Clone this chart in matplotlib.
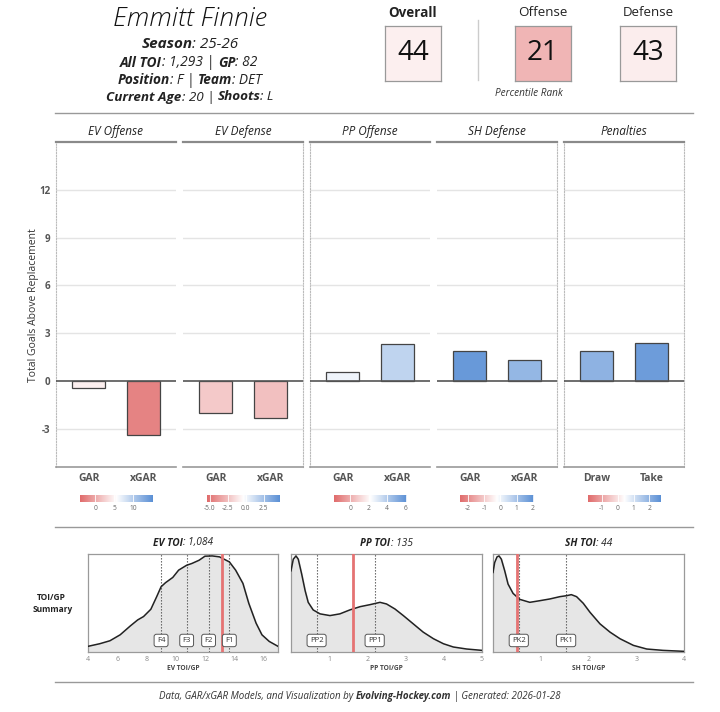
import numpy as np
import matplotlib
matplotlib.use("Agg")
import matplotlib.pyplot as plt
from matplotlib.colors import LinearSegmentedColormap, Normalize, TwoSlopeNorm
from matplotlib.lines import Line2D

plt.rcParams['font.family'] = ['Open Sans', 'DejaVu Sans']

# ---- data ----
player = "Emmitt Finnie"
season = "25-26"
all_toi = "1,293"
games = "82"
position = "F"
team = "DET"
age = "20"
shoots = "L"

pct_labels = ["Overall", "Offense", "Defense"]
pct_values = [44, 21, 43]

panel_names = ["EV Offense", "EV Defense", "PP Offense", "SH Defense", "Penalties"]
bar_labels = [["GAR", "xGAR"], ["GAR", "xGAR"], ["GAR", "xGAR"], ["GAR", "xGAR"], ["Draw", "Take"]]
bar_values = [[-0.42, -3.4], [-2.0, -2.3], [0.58, 2.35], [1.85, 1.32], [1.85, 2.37]]
scale_limits = [(-4.1, 15.0), (-5.45, 4.7), (-1.8, 6.1), (-2.47, 2.04), (-1.9, 2.7)]
scale_ticks = [[0, 5, 10], [-5, -2.5, 0, 2.5], [0, 2, 4, 6], [-2, -1, 0, 1, 2], [-1, 0, 1, 2]]
scale_tick_labels = [["0", "5", "10"], ["-5.0", "-2.5", "0.0", "2.5"], ["0", "2", "4", "6"],
                     ["-2", "-1", "0", "1", "2"], ["-1", "0", "1", "2"]]

ev_x = [4.0, 4.8, 5.5, 6.2, 6.9, 7.4, 7.8, 8.3, 8.7, 9.0, 9.3, 9.8, 10.2, 10.75, 11.1, 11.6,
        12.0, 12.5, 13.0, 13.67, 14.1, 14.6, 15.0, 15.5, 15.9, 16.4, 17.0]
ev_y = [0.059, 0.086, 0.117, 0.179, 0.272, 0.334, 0.369, 0.445, 0.576, 0.679, 0.721, 0.776, 0.852,
        0.903, 0.921, 0.955, 0.997, 1.0, 0.990, 0.938, 0.852, 0.714, 0.507, 0.300, 0.179, 0.110, 0.059]
pp_x = [0.0, 0.06, 0.13, 0.19, 0.28, 0.37, 0.45, 0.58, 0.76, 1.02, 1.28, 1.54, 1.81, 2.07, 2.33,
        2.50, 2.72, 2.94, 3.20, 3.46, 3.73, 3.99, 4.25, 4.60, 5.0]
pp_y = [0.845, 0.966, 1.0, 0.966, 0.810, 0.638, 0.517, 0.438, 0.397, 0.379, 0.397, 0.438, 0.472,
        0.493, 0.517, 0.500, 0.448, 0.379, 0.293, 0.207, 0.138, 0.086, 0.052, 0.031, 0.017]
sh_x = [0.0, 0.035, 0.084, 0.126, 0.175, 0.245, 0.315, 0.42, 0.56, 0.77, 0.98, 1.19, 1.40, 1.54,
        1.64, 1.75, 1.89, 2.03, 2.24, 2.45, 2.66, 2.94, 3.22, 3.56, 4.0]
sh_y = [0.828, 0.931, 0.990, 1.0, 0.966, 0.845, 0.707, 0.610, 0.548, 0.517, 0.534, 0.552, 0.576,
        0.586, 0.597, 0.576, 0.507, 0.414, 0.293, 0.207, 0.138, 0.069, 0.031, 0.017, 0.007]

toi_titles = ["EV TOI", "PP TOI", "SH TOI"]
toi_totals = ["1,084", "135", "44"]
toi_xlabels = ["EV TOI/GP", "PP TOI/GP", "SH TOI/GP"]
toi_xlims = [(4, 17), (0, 5), (0, 4)]
toi_xticks = [[4, 6, 8, 10, 12, 14, 16], [1, 2, 3, 4, 5], [1, 2, 3, 4]]
role_names = [["F4", "F3", "F2", "F1"], ["PP2", "PP1"], ["PK2", "PK1"]]
role_values = [[9.0, 10.75, 12.25, 13.67], [0.67, 2.19], [0.54, 1.53]]
player_toi = [13.16, 1.61, 0.51]

# ---- figure ----
W, H = 720, 712
fig = plt.figure(figsize=(7.2, 7.12), dpi=100)
renderer = fig.canvas.get_renderer()

cmap = LinearSegmentedColormap.from_list("rwb", ["#e06b6b", "#ffffff", "#5a8fd5"])


def fx(x):
    return x / W


def fy(y):
    return 1 - y / H


def box(x0, y0, x1, y1):
    return [x0 / W, 1 - y1 / H, (x1 - x0) / W, (y1 - y0) / H]


def hline(y, x0=55, x1=693, color="#999999"):
    fig.add_artist(Line2D([fx(x0), fx(x1)], [fy(y), fy(y)], color=color, lw=1))


def text_width(s, size, weight, style="italic"):
    t1 = fig.text(0, 0, "|" + s + "|", fontsize=size, style=style, weight=weight)
    t2 = fig.text(0, 0, "||", fontsize=size, style=style, weight=weight)
    w = t1.get_window_extent(renderer).width - t2.get_window_extent(renderer).width
    t1.remove()
    t2.remove()
    return w


def fit(parts, width, style="italic"):
    # font size so that the text spans about `width` pixels, as in the reference
    w10 = sum(text_width(s, 10, w, style) for s, w in parts)
    return 10 * width / w10


def rich(x, y, parts, width=None, color="#222222", size=None):
    if size is None:
        size = fit(parts, width)
    widths = [text_width(s, size, w) for s, w in parts]
    x0 = x - sum(widths) / 2
    for (s, w), wd in zip(parts, widths):
        fig.text(fx(x0), fy(y), s, fontsize=size, style="italic", weight=w,
                 color=color, ha="left", va="center")
        x0 += wd


# header text
rich(190, 19, [(player, "light")], 154, color="#111111")
rich(190, 44, [("Season", "bold"), (": " + season, "normal")], 97)
rich(189, 63, [("All TOI", "bold"), (": " + all_toi + " | ", "normal"), ("GP", "bold"), (": " + games, "normal")], 137)
rich(189.5, 80, [("Position", "bold"), (": " + position + " | ", "normal"), ("Team", "bold"), (": " + team, "normal")], 145)
rich(190, 97, [("Current Age", "bold"), (": " + age + " | ", "normal"), ("Shoots", "bold"), (": " + shoots, "normal")], 168)

# percentile boxes
pct_x = [413, 543, 648]
pct_widths = [49, 49, 51]
pct_norm = Normalize(0, 100)
num_size = fit([("44", "normal")], 31.5, style="normal")
for i, (lab, val) in enumerate(zip(pct_labels, pct_values)):
    cx = pct_x[i]
    wt = "bold" if i == 0 else "normal"
    fig.text(fx(cx), fy(13), lab, fontsize=fit([(lab, wt)], pct_widths[i], style="normal"),
             ha="center", va="center", weight=wt, color="#222")
    bax = fig.add_axes(box(cx - 28, 26, cx + 28, 81))
    bax.set_facecolor(cmap(pct_norm(val) * 0.85 + 0.075))
    bax.set_xticks([])
    bax.set_yticks([])
    for sp in bax.spines.values():
        sp.set_color("#999999")
        sp.set_linewidth(0.9)
    bax.text(0.5, 0.5, str(val), fontsize=num_size, ha="center", va="center",
             transform=bax.transAxes, color="#111")
fig.add_artist(Line2D([fx(478), fx(478)], [fy(20), fy(80)], color="#cccccc", lw=1))
rich(529, 94, [("Percentile Rank", "normal")], 68, color="#333333")

hline(113)

# GAR panels
panel_x = [56, 183, 310, 437, 564]
dotted_left = [True, False, True, False, True]
dotted_right = [False, True, False, True, True]
for i, name in enumerate(panel_names):
    x0 = panel_x[i]
    ax = fig.add_axes(box(x0, 142, x0 + 120, 467))
    ax.set_xlim(0.4, 2.6)
    ax.set_ylim(-5.4, 15)
    for g in [12, 9, 6, 3, -3]:
        ax.axhline(g, color="#e4e4e4", lw=1, zorder=0)
    lo, hi = scale_limits[i]
    norm = TwoSlopeNorm(vcenter=0, vmin=lo, vmax=hi)
    vals = bar_values[i]
    ax.bar([1, 2], vals, width=0.6, color=[cmap(norm(v)) for v in vals],
           edgecolor="#444444", linewidth=0.9, zorder=2)
    ax.axhline(0, color="#555555", lw=1.2, zorder=3)
    ax.spines["top"].set_color("#8a8a8a")
    ax.spines["top"].set_linewidth(1.6)
    ax.spines["bottom"].set_color("#9a9a9a")
    ax.spines["bottom"].set_linewidth(1.2)
    for side, flag in [("left", dotted_left[i]), ("right", dotted_right[i])]:
        if flag:
            ax.spines[side].set_color("#bbbbbb")
            ax.spines[side].set_linestyle((0, (1, 1.5)))
            ax.spines[side].set_linewidth(0.8)
        else:
            ax.spines[side].set_visible(False)
    ax.set_xticks([1, 2], bar_labels[i], fontsize=7.5, weight="bold", color="#555555")
    ax.tick_params(axis="x", length=0, pad=4)
    if i == 0:
        ax.set_yticks([-3, 0, 3, 6, 9, 12], ["-3", "0", "3", "6", "9", "12"],
                      fontsize=7, weight="bold", color="#555555")
        ax.tick_params(axis="y", length=0, pad=4)
    else:
        ax.set_yticks([])
    ax.set_title(name, fontsize=8.5, style="italic", pad=5, color="#222")

    # colour scale
    cx = x0 + 60
    cax = fig.add_axes(box(cx - 36.5, 495, cx + 36.5, 502))
    grad = np.linspace(lo, hi, 256)
    cax.imshow(grad[None, :], extent=(lo, hi, 0, 1), aspect="auto", cmap=cmap, norm=Normalize(lo, hi))
    for t in scale_ticks[i]:
        cax.axvline(t, color="white", lw=0.6)
    cax.set_xlim(lo, hi)
    cax.set_xticks(scale_ticks[i], scale_tick_labels[i], fontsize=4.8, color="#666666")
    cax.tick_params(axis="x", length=0, pad=2)
    cax.set_yticks([])
    for sp in cax.spines.values():
        sp.set_visible(False)

fig.text(fx(34), fy(305), "Total Goals Above Replacement", rotation=90,
         fontsize=fit([("Total Goals Above Replacement", "normal")], 152, style="normal"),
         ha="center", va="center", color="#333")

hline(527)

# TOI density panels
fig.text(fx(51), fy(598), "TOI/GP", fontsize=fit([("TOI/GP", "bold")], 29, style="normal"),
         weight="bold", ha="center", va="center", color="#222")
fig.text(fx(53), fy(610), "Summary", fontsize=fit([("Summary", "bold")], 40, style="normal"),
         weight="bold", ha="center", va="center", color="#222")
dens_x = [ev_x, pp_x, sh_x]
dens_y = [ev_y, pp_y, sh_y]
dens_box = [(88, 278), (291, 482), (493, 684)]
title_size = fit([("PP TOI", "bold"), (": 135", "normal")], 52)
for i in range(3):
    a, b = dens_box[i]
    ax = fig.add_axes(box(a, 554, b, 652))
    ax.fill_between(dens_x[i], dens_y[i], 0, color="#e6e6e6", zorder=1)
    ax.plot(dens_x[i], dens_y[i], color="#222222", lw=1.1, zorder=3)
    ax.set_xlim(*toi_xlims[i])
    ax.set_ylim(0, 1.02)
    for rn, rv in zip(role_names[i], role_values[i]):
        ax.axvline(rv, color="#555555", lw=0.8, linestyle=(0, (1.2, 1.5)), zorder=2)
        ax.text(rv, 0.12, rn, fontsize=5.6, ha="center", va="center", color="#333", zorder=5,
                bbox=dict(boxstyle="round,pad=0.35,rounding_size=0.3", fc="white", ec="#555555", lw=0.7))
    ax.axvline(player_toi[i], color="#e57373", lw=2, zorder=4)
    ax.set_yticks([])
    ax.set_xticks(toi_xticks[i], [str(t) for t in toi_xticks[i]], fontsize=5, color="#888888")
    ax.tick_params(axis="x", length=0, pad=3)
    ax.set_xlabel(toi_xlabels[i], fontsize=4.8, weight="bold", color="#444", labelpad=1)
    for sp in ax.spines.values():
        sp.set_color("#9a9a9a")
        sp.set_linewidth(0.9)
    rich((a + b) / 2, 543, [(toi_titles[i], "bold"), (": " + toi_totals[i], "normal")], size=title_size)

hline(682)
rich(360, 697, [("Data, GAR/xGAR Models, and Visualization by ", "normal"),
                ("Evolving-Hockey.com", "bold"), (" | Generated: 2026-01-28", "normal")], 400, color="#333333")

fig.savefig("out.png", dpi=100)
